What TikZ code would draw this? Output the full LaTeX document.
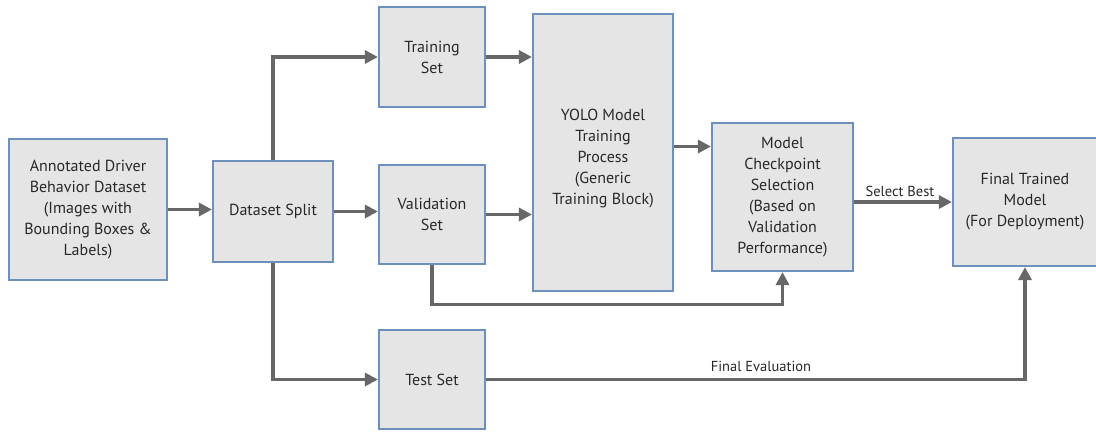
\documentclass[tikz,border=0pt]{standalone}
\usepackage{fontspec}
\setmainfont{PT Sans}
\usetikzlibrary{arrows.meta,calc}
\definecolor{boxfill}{HTML}{E5E5E5}
\definecolor{boxline}{HTML}{6E90BC}
\definecolor{arrowc}{HTML}{676767}
\definecolor{txt}{HTML}{282828}
\begin{document}
\begin{tikzpicture}[x=1pt,y=-1pt,
  blk/.style={draw=boxline,fill=boxfill,line width=2.2pt,align=center,text=txt,
    font=\fontsize{16}{21}\selectfont,inner sep=2pt},
  arr/.style={draw=arrowc,line width=3.2pt,-{Triangle[length=13pt,width=13pt]}},
  lbl/.style={text=txt,font=\fontsize{14.5}{17}\selectfont,inner sep=1pt}]
\useasboundingbox[fill=white] (0,0) rectangle (1096,432);
\node[blk,minimum width=158pt,minimum height=141pt] (ann) at (88,209.5)
  {Annotated Driver\\Behavior Dataset\\(Images with\\Bounding Boxes \&\\Labels)};
\node[blk,minimum width=120pt,minimum height=101pt] (split) at (273,211.5) {Dataset Split};
\node[blk,minimum width=106pt,minimum height=100pt] (train) at (432,57) {Training\\Set};
\node[blk,minimum width=106pt,minimum height=99pt] (val) at (432,214.5) {Validation\\Set};
\node[blk,minimum width=106pt,minimum height=99pt] (test) at (432,379.5) {Test Set};
\node[blk,minimum width=140pt,minimum height=277pt] (yolo) at (603,152.5) {};
\node[blk,draw=none,fill=none] (yolotext) at (603,159)
  {YOLO Model\\Training\\Process\\(Generic\\Training Block)};
\node[blk,minimum width=141pt,minimum height=148pt] (ckpt) at (782.5,197)
  {Model\\Checkpoint\\Selection\\(Based on\\Validation\\Performance)};
\node[blk,minimum width=144pt,minimum height=128pt] (final) at (1025,202)
  {Final Trained\\Model\\(For Deployment)};
\draw[arr] (ann.east) -- (ann.east -| split.west);
\draw[arr] (split.east) -- (split.east -| val.west);
\draw[arr] (split.north) |- (train.west);
\draw[arr] (split.south) |- (test.west);
\draw[arr] (train.east) -- (train.east -| yolo.west);
\draw[arr] (val.east) -- (val.east -| yolo.west);
\draw[arr] ([yshift=6pt]yolo.east) -- ([yshift=6pt]yolo.east -| ckpt.west);
\draw[arr] (val.south) -- ++(0,39) -| (ckpt.south);
\draw[arr] (final.west -| ckpt.east) -- (final.west);
\draw[arr] (test.east) -| (final.south);
\node[lbl] (sb) at (900,191) {Select Best};
\node[lbl] (fe) at (761,366) {Final Evaluation};
\end{tikzpicture}
\end{document}
